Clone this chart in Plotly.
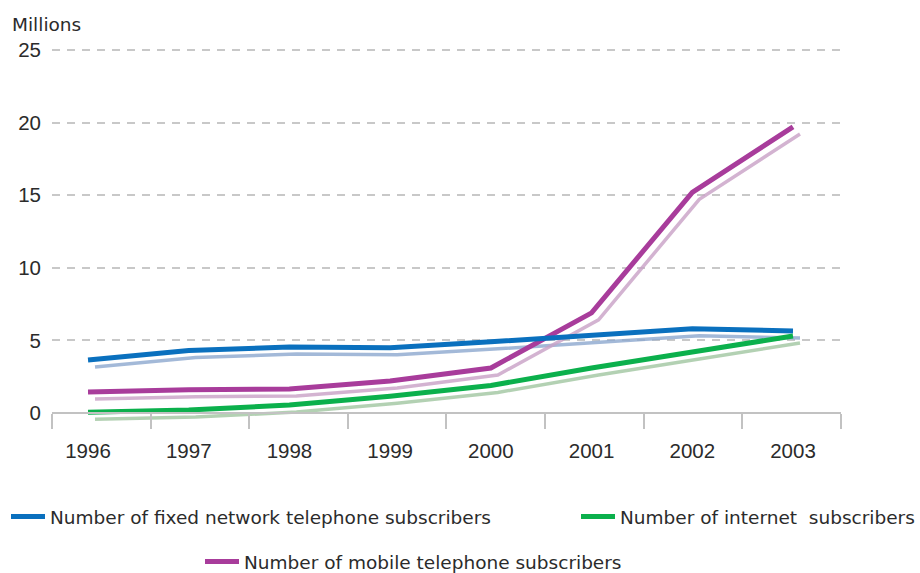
import plotly.graph_objects as go

# ---- data ----
years = ["1996", "1997", "1998", "1999", "2000", "2001", "2002", "2003"]
fixed_network = [3.65, 4.3, 4.55, 4.5, 4.9, 5.35, 5.8, 5.65]
internet = [0.05, 0.2, 0.55, 1.15, 1.9, 3.1, 4.2, 5.3]
mobile = [1.45, 1.6, 1.65, 2.2, 3.1, 6.9, 15.2, 19.7]
y_ticks = [0, 5, 10, 15, 20, 25]
name_fixed = "Number of fixed network telephone subscribers"
name_internet = "Number of internet\u00a0 subscribers"
name_mobile = "Number of mobile telephone subscribers"

# ---- styling / geometry ----
W, H = 920, 573
ML, MR, MT, MB = 52, 79, 47, 138
plot_w = W - ML - MR
plot_h = H - MT - MB
x_range = [-0.3575, 7.4766]
y_range = [-1.515, 25.207]
px_x = plot_w / (x_range[1] - x_range[0])
px_y = plot_h / (y_range[1] - y_range[0])
shadow_dx, shadow_dy = 7, 7
x_range_sh = [x_range[0] - shadow_dx / px_x, x_range[1] - shadow_dx / px_x]
y_range_sh = [y_range[0] + shadow_dy / px_y, y_range[1] + shadow_dy / px_y]
axis_pos = (0 - y_range[0]) / (y_range[1] - y_range[0])
bounds = [x_range[0] + k * 0.979 for k in range(len(years) + 1)]

xs = list(range(len(years)))
C_BLUE, C_GREEN, C_PURPLE = "#0a70be", "#0bb04c", "#a83c9b"
S_BLUE, S_GREEN, S_PURPLE = "rgba(140,168,206,0.8)", "rgba(160,198,160,0.8)", "rgba(200,160,198,0.8)"
TXT = "#2b2b2b"
FONT = "DejaVu Sans"
TICKFONT = "Liberation Sans"

fig = go.Figure()

# shadows (lower layer, shifted axes)
for vals, col in [(fixed_network, S_BLUE), (internet, S_GREEN), (mobile, S_PURPLE)]:
    fig.add_trace(go.Scatter(x=xs, y=vals, mode="lines", line=dict(color=col, width=3.5),
                             showlegend=False, hoverinfo="skip", xaxis="x", yaxis="y"))

# main lines (overlay axes, on top)
fig.add_trace(go.Scatter(x=xs, y=mobile, mode="lines", name=name_mobile,
                         line=dict(color=C_PURPLE, width=5), xaxis="x2", yaxis="y2", legend="legend3"))
fig.add_trace(go.Scatter(x=xs, y=fixed_network, mode="lines", name=name_fixed,
                         line=dict(color=C_BLUE, width=5), xaxis="x2", yaxis="y2", legend="legend"))
fig.add_trace(go.Scatter(x=xs, y=internet, mode="lines", name=name_internet,
                         line=dict(color=C_GREEN, width=5), xaxis="x2", yaxis="y2", legend="legend2"))

legend_font = dict(family=FONT, size=18.5, color=TXT)
def leg(left_px, center_px):
    return dict(x=(left_px - ML) / plot_w, y=(H - MB - center_px) / plot_h,
                xanchor="left", yanchor="middle", orientation="h",
                bgcolor="rgba(0,0,0,0)", font=legend_font, itemwidth=34)

fig.update_layout(
    width=W, height=H,
    margin=dict(l=ML, r=MR, t=MT, b=MB, autoexpand=False),
    paper_bgcolor="white", plot_bgcolor="white",
    xaxis=dict(range=x_range_sh, visible=False, fixedrange=True),
    yaxis=dict(range=y_range_sh, visible=False, fixedrange=True),
    xaxis2=dict(range=x_range, overlaying="x", anchor="free", position=axis_pos,
                tickmode="array", tickvals=xs, ticktext=years, ticks="",
                ticklabelstandoff=20,
                tickfont=dict(family=TICKFONT, size=20.5, color=TXT),
                showline=True, linecolor="#c2c2c2", linewidth=1.5,
                showgrid=False, zeroline=False,
                minor=dict(tickmode="array", tickvals=bounds, ticks="outside", ticklen=15,
                           tickcolor="#c2c2c2", tickwidth=1.5, showgrid=False)),
    yaxis2=dict(range=y_range, overlaying="y", anchor="x2", side="left",
                tickmode="array", tickvals=y_ticks, ticks="",
                ticklabelstandoff=10,
                tickfont=dict(family=TICKFONT, size=20.5, color=TXT),
                showgrid=True, gridcolor="#c8c8c8", gridwidth=1.5, griddash="8px,7px",
                zeroline=False, showline=False),
    legend=leg(6, 517),
    legend2=leg(576, 517),
    legend3=leg(200, 562),
    annotations=[dict(text="Millions", xref="paper", yref="paper",
                      x=(10 - ML) / plot_w, y=(H - MB - 25) / plot_h,
                      xanchor="left", yanchor="middle", showarrow=False,
                      font=dict(family=FONT, size=18.5, color=TXT))],
)

fig.write_html("out.html")
